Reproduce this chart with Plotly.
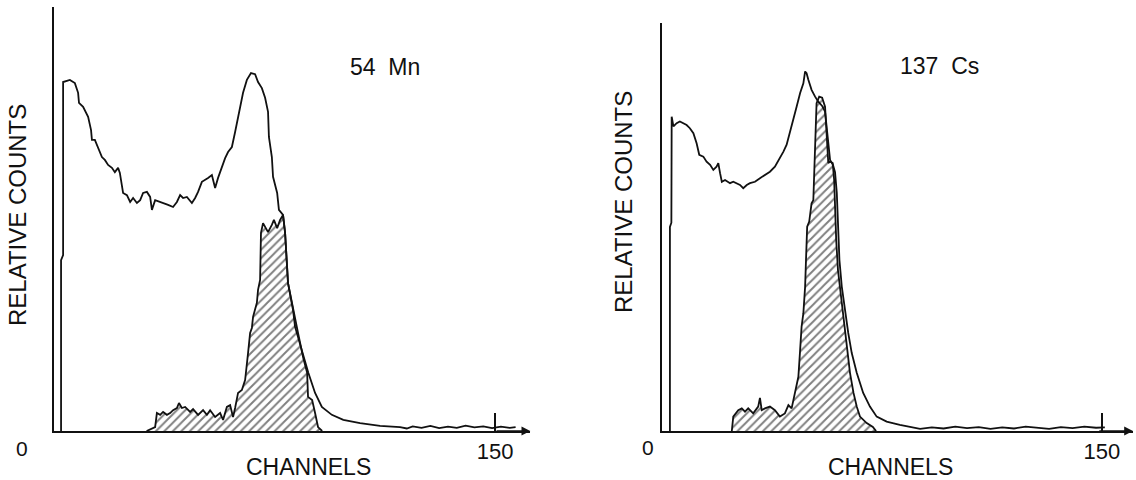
import plotly.graph_objects as go

# ---------------- 54 Mn panel (left) ----------------
mn_open_ch = [2.4, 2.4, 3.1, 3.1, 5.4, 7.1, 8.2, 8.5, 9.9, 11.6, 12.6, 12.9, 13.9, 15.0,
              16.3, 17.3, 18.4, 19.7, 20.7, 21.8, 22.4, 23.5, 24.8, 25.9, 26.9, 28.2, 29.3,
              30.3, 31.6, 32.7, 33.3, 34.4, 36.1, 37.8, 38.8, 40.5, 41.8, 42.9, 43.9, 45.2,
              46.9, 48.0, 49.0, 50.3, 51.4, 52.4, 53.7, 54.8, 55.8, 57.1, 58.2, 59.2, 60.5,
              61.6, 62.6, 63.3, 64.3, 65.6, 67.0, 68.4, 69.4, 70.7, 71.8, 72.8, 73.1, 74.1,
              74.5, 75.9, 76.5, 77.9, 78.6, 79.6, 81.3, 82.0, 84.3, 86.5, 88.8, 91.1, 94.5,
              98.4, 104.1, 110.9, 117.7, 120, 122, 125, 128, 131, 134, 137, 140, 143, 146,
              149, 152, 155, 157]
mn_open_cnt = [0, 47.6, 49.0, 97.2, 97.8, 96.9, 94.2, 91.4, 90.3, 87.5, 83.8, 81.1, 81.1, 79.1,
               76.3, 75.5, 74.1, 73.3, 72.1, 73.3, 71.9, 66.3, 65.7, 63.8, 64.9, 63.5, 64.3,
               66.3, 66.6, 65.2, 61.6, 64.3, 63.8, 63.5, 63.0, 62.4, 63.8, 65.7, 64.9, 65.2,
               63.5, 64.9, 66.6, 69.4, 69.9, 70.5, 71.3, 67.7, 70.5, 73.5, 76.0, 77.7, 79.1,
               83.3, 87.5, 90.8, 94.2, 97.8, 99.7, 99.4, 97.2, 95.5, 92.8, 88.9, 81.9, 76.3,
               70.8, 66.3, 61.6, 60.2, 55.2, 41.2, 33.7, 29.0, 22.6, 16.2, 10.6, 6.7, 4.5,
               3.1, 2.2, 1.4, 1.1, 0.7, 1.3, 0.9, 1.4, 0.8, 1.2, 0.9, 1.5, 1.0, 1.3,
               0.8, 1.2, 0.9, 1.1]

mn_hatch_ch = [31.5, 34.4, 35.0, 36.1, 37.1, 38.4, 39.5, 40.5, 41.8, 42.5, 43.5, 44.6, 46.3,
               47.3, 49.0, 50.7, 52.0, 53.1, 54.8, 56.5, 57.5, 58.8, 59.9, 60.9, 61.6, 62.6,
               63.9, 65.0, 66.0, 66.7, 67.3, 67.7, 69.0, 69.4, 70.1, 70.4, 71.1, 71.8, 72.8,
               74.1, 74.8, 75.9, 76.9, 77.9, 78.6, 79.6, 81.3, 83.0, 84.7, 86.1, 86.4, 87.8,
               88.8, 89.8, 91.2]
mn_hatch_cnt = [0, 1.1, 5.0, 4.5, 5.3, 4.5, 5.0, 5.8, 6.4, 7.8, 6.4, 6.7, 5.3,
                6.1, 4.5, 5.8, 4.5, 5.8, 3.9, 5.0, 3.1, 6.7, 7.2, 3.9, 6.4, 10.6,
                11.4, 14.2, 21.7, 27.3, 28.7, 31.8, 35.7, 39.3, 42.1, 55.2, 57.9, 56.8, 55.4,
                57.4, 58.8, 56.5, 58.8, 60.2, 55.2, 41.2, 33.7, 27.3, 20.6, 16.2, 9.5, 8.6,
                5.0, 1.1, 0]

# ---------------- 137 Cs panel (right) ----------------
cs_open_ch = [2.7, 2.7, 3.2, 3.3, 3.9, 5.0, 6.1, 7.3, 8.4, 9.5, 10.7, 11.8, 12.7, 14.1, 15.2,
              16.4, 17.5, 18.6, 19.2, 19.8, 20.4, 21.5, 23.2, 24.3, 25.5, 26.6, 27.7, 28.9,
              30.0, 31.7, 33.4, 35.1, 36.8, 38.5, 40.2, 41.4, 42.5, 43.6, 44.8, 45.9, 47.1,
              48.2, 48.8, 49.3, 49.9, 51.0, 52.2, 53.3, 54.6, 55.6, 56.6, 57.3, 58.3, 59.0,
              59.6, 60.1, 60.5, 61.3, 62.4, 63.5, 64.7, 66.4, 68.6, 70.9, 73.2, 76.6, 81.1,
              84.6, 88, 92, 96, 100, 104, 108, 112, 116, 120, 124, 128, 132, 136, 140, 144,
              148, 151]
cs_open_cnt = [0, 56.8, 58.0, 87.5, 84.8, 85.7, 86.2, 85.7, 85.2, 84.3, 82.9, 80.1, 76.9, 76.4,
               75.0, 74.1, 72.7, 73.6, 74.6, 71.8, 69.4, 69.9, 69.0, 69.4, 69.0, 68.5, 67.6,
               68.5, 69.0, 69.4, 70.4, 71.3, 72.2, 73.6, 76.0, 77.8, 79.7, 82.9, 86.6, 90.3,
               94.1, 96.8, 100.1, 99.6, 97.8, 95.0, 93.1, 91.7, 90.5, 88.9, 81.1, 75.5, 74.1,
               72.1, 66.3, 56.9, 47.6, 40.2, 33.7, 27.3, 21.7, 16.2, 10.6, 6.8, 4.0, 2.6, 1.7,
               1.1, 0.6, 1.0, 0.7, 1.2, 0.8, 1.1, 0.6, 1.0, 0.7, 1.2, 0.8, 0.6, 1.1, 0.8, 1.2,
               0.9, 1.0]

cs_hatch_ch = [23.8, 24.3, 26.0, 27.2, 28.3, 29.4, 31.1, 32.8, 33.4, 34.0, 35.1, 36.8, 38.5,
               40.2, 41.9, 43.1, 44.2, 45.3, 46.5, 47.1, 47.6, 48.2, 48.8, 49.1, 49.5, 50.2,
               51.0, 51.6, 52.2, 52.7, 53.6, 54.6, 55.6, 56.1, 56.7, 57.3, 58.2, 58.7, 59.0,
               59.4, 60.0, 61.0, 62.1, 63.0, 64.1, 65.3, 66.4, 67.5, 69.8, 71.9, 73.0]
cs_hatch_cnt = [0, 4.0, 5.8, 6.3, 5.4, 6.3, 4.9, 6.8, 9.2, 5.8, 6.3, 6.8, 5.8,
                4.0, 4.9, 7.2, 6.3, 10.5, 15.1, 22.6, 29.1, 32.8, 40.2, 47.6, 56.9, 58.3,
                63.4, 64.3, 78.3, 91.3, 93.1, 92.8, 90.3, 82.9, 74.6, 75.0, 74.6, 69.9, 62.5,
                53.2, 44.8, 37.9, 30.9, 23.5, 16.2, 10.6, 6.8, 4.0, 2.2, 1.1, 0]

tick_vals = [150]
tick_text = ["150"]
isotopes = ["54\u00a0\u00a0Mn", "137\u00a0\u00a0Cs"]
x_title = "CHANNELS"
y_title = "RELATIVE COUNTS"

INK = "#111111"
FONT = "Liberation Sans, Arial, sans-serif"
W, H = 1136, 480

fig = go.Figure()

hatch = dict(shape="/", size=6, solidity=0.32, fgcolor="#000000", bgcolor="rgba(0,0,0,0)")

for (och, ocn, hch, hcn, xa, ya) in [
    (mn_open_ch, mn_open_cnt, mn_hatch_ch, mn_hatch_cnt, "x", "y"),
    (cs_open_ch, cs_open_cnt, cs_hatch_ch, cs_hatch_cnt, "x2", "y2"),
]:
    fig.add_trace(go.Scatter(x=och, y=ocn, mode="lines", xaxis=xa, yaxis=ya,
                             line=dict(color=INK, width=1.8), hoverinfo="skip"))
    fig.add_trace(go.Scatter(x=hch, y=hcn, mode="lines", xaxis=xa, yaxis=ya,
                             fill="tozeroy", fillpattern=hatch,
                             line=dict(color=INK, width=1.8), hoverinfo="skip"))

def px_x(p):
    return p / W

def px_y(p):
    return 1 - p / H

axis_common = dict(showline=True, linecolor=INK, linewidth=1.6, showgrid=False,
                   zeroline=False, mirror=False)

fig.update_layout(
    width=W, height=H,
    margin=dict(l=0, r=0, t=0, b=0),
    paper_bgcolor="white", plot_bgcolor="white",
    showlegend=False,
    font=dict(family=FONT, color=INK, size=22),
    xaxis=dict(domain=[px_x(54), px_x(530.3)], range=[0, 162], anchor="y",
               ticks="inside", ticklen=18, tickwidth=1.6, tickcolor=INK,
               tickvals=tick_vals, ticktext=tick_text,
               tickfont=dict(size=22, family=FONT, color=INK), **axis_common),
    yaxis=dict(domain=[px_y(431), px_y(7)], range=[0, 118.1], anchor="x",
               showticklabels=False, ticks="", **axis_common),
    xaxis2=dict(domain=[px_x(662), px_x(1133)], range=[0, 160.6], anchor="y2",
                ticks="inside", ticklen=18, tickwidth=1.6, tickcolor=INK,
                tickvals=tick_vals, ticktext=tick_text,
                tickfont=dict(size=22, family=FONT, color=INK), **axis_common),
    yaxis2=dict(domain=[px_y(431), px_y(23)], range=[0, 113.6], anchor="x2",
                showticklabels=False, ticks="", **axis_common),
)

ann = []
# arrow heads at the end of the channel axes
for xr, yr, xend in [("x", "y", 162), ("x2", "y2", 160.6)]:
    ann.append(dict(xref=xr, yref=yr, x=xend, y=0, axref=xr, ayref=yr, ax=xend - 12, ay=0,
                    showarrow=True, arrowhead=2, arrowsize=1.1, arrowwidth=1.6,
                    arrowcolor=INK, text=""))
# origin labels
ann.append(dict(xref="x", yref="y", x=0, y=0, text="0", showarrow=False,
                xshift=-32, yshift=-17, font=dict(size=21)))
ann.append(dict(xref="x2", yref="y2", x=0, y=0, text="0", showarrow=False,
                xshift=-14, yshift=-16, font=dict(size=21)))
# axis titles
for (cx, cy) in [(308, 467), (890, 467)]:
    ann.append(dict(xref="paper", yref="paper", x=px_x(cx), y=px_y(cy), text=x_title,
                    showarrow=False, xanchor="center", yanchor="middle",
                    font=dict(size=23)))
for (cx, cy) in [(17, 215), (623, 202)]:
    ann.append(dict(xref="paper", yref="paper", x=px_x(cx), y=px_y(cy), text=y_title,
                    showarrow=False, xanchor="center", yanchor="middle", textangle=-90,
                    font=dict(size=24)))
# isotope labels
for (cx, cy), lab in zip([(385, 67), (939, 66)], isotopes):
    ann.append(dict(xref="paper", yref="paper", x=px_x(cx), y=px_y(cy), text=lab,
                    showarrow=False, xanchor="center", yanchor="middle",
                    font=dict(size=23)))

fig.update_layout(annotations=ann)

fig.write_html("out.html")
